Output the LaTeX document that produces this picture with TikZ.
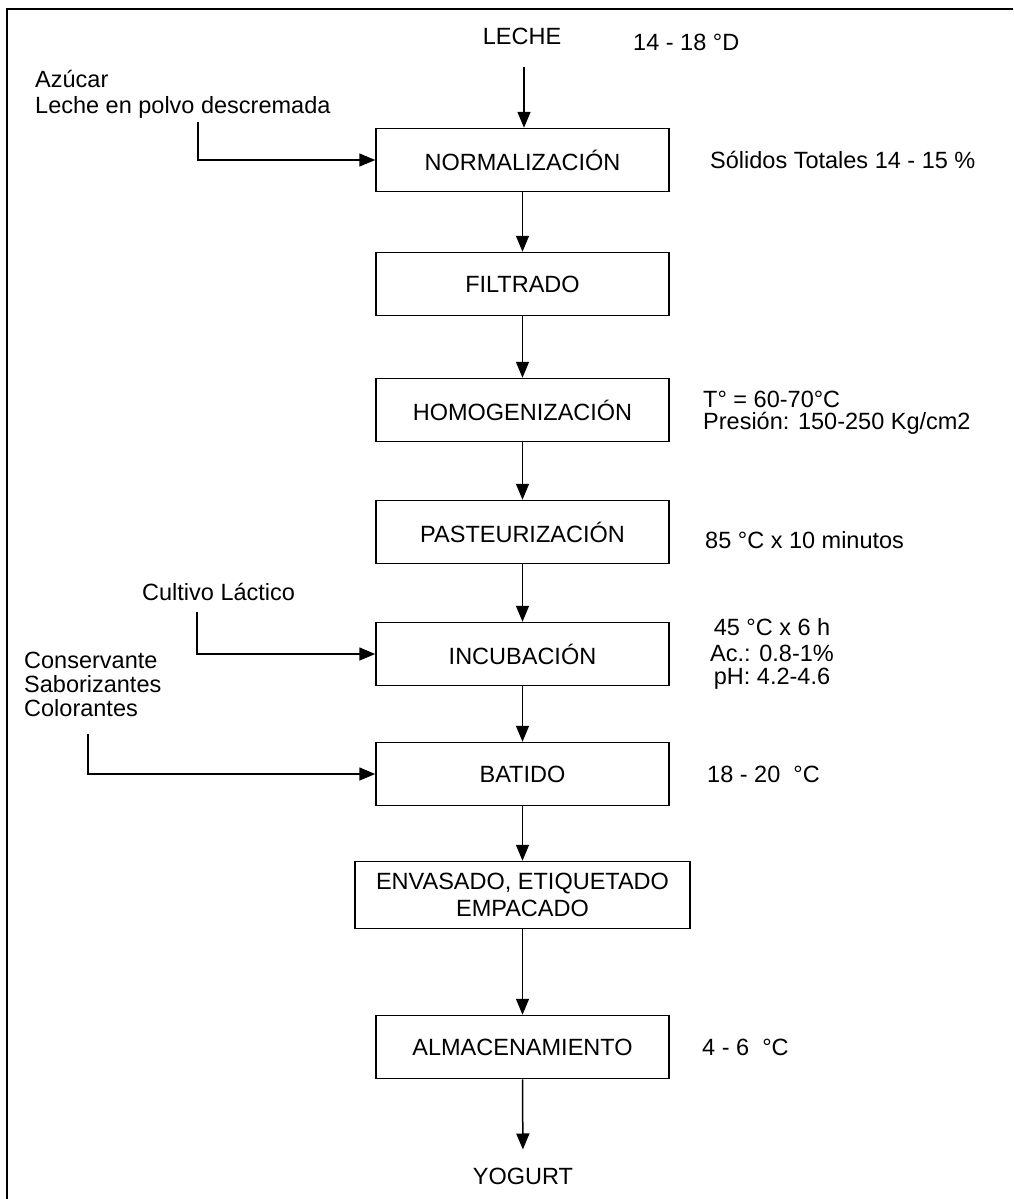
\documentclass[tikz,border=0pt]{standalone}
\usepackage{fontspec}
\setmainfont{Liberation Sans}
\usetikzlibrary{arrows.meta}
\begin{document}
\begin{tikzpicture}[x=1pt,y=-1pt,
  txt/.style={font=\fontsize{23.5}{27}\selectfont, inner sep=0pt},
  stepbox/.style={draw, line width=1.5pt, minimum width=293pt, minimum height=63pt, font=\fontsize{23.5}{27}\selectfont, align=center, inner sep=2pt},
  arr/.style={line width=1.5pt, -{Triangle[length=16pt,width=13pt]}},
  lbl/.style={txt, anchor=west}]
\useasboundingbox (0,0) rectangle (1013,1199);
% frame
\draw[line width=1.6pt] (7,1199) -- (7,9) -- (1013,9);
% process boxes
\node[stepbox] (norm) at (522.5,160) {NORMALIZACIÓN};
\node[stepbox] (filt) at (522.5,284) {FILTRADO};
\node[stepbox] (homo) at (522.5,410) {HOMOGENIZACIÓN};
\node[stepbox] (past) at (522.5,532) {PASTEURIZACIÓN};
\node[stepbox] (incu) at (522.5,654) {INCUBACIÓN};
\node[stepbox] (bati) at (522.5,774) {BATIDO};
\node[stepbox, minimum width=335pt, minimum height=67pt] (enva) at (522.5,895) {ENVASADO, ETIQUETADO\\EMPACADO};
\node[stepbox] (alma) at (522.5,1047) {ALMACENAMIENTO};
% top and bottom
\node[txt] (leche) at (522,36) {LECHE};
\node[txt] (yog) at (523,1176) {YOGURT};
% main flow
\coordinate (lstart) at (524,67);
\draw[arr] (lstart) -- (lstart |- norm.north);
\draw[arr] (norm) -- (filt);
\draw[arr] (filt) -- (homo);
\draw[arr] (homo) -- (past);
\draw[arr] (past) -- (incu);
\draw[arr] (incu) -- (bati);
\draw[arr] (bati) -- (enva);
\draw[arr] (enva) -- (alma);
\draw[arr, shorten >=18pt] (alma.south) -- (yog.north);
% inputs
\node[lbl] (azu) at (35,79) {Azúcar};
\node[lbl] (lpd) at (35,107) {Leche en polvo descremada};
\coordinate (f1) at (198,122);
\draw[arr] (f1) |- (norm.west);
\node[lbl] (cul) at (142,592) {Cultivo Láctico};
\coordinate (f2) at (197,612);
\draw[arr] (f2) |- (incu.west);
\node[lbl] (con) at (24,660) {Conservante};
\node[lbl] (sab) at (24,684) {Saborizantes};
\node[lbl] (col) at (24,708) {Colorantes};
\coordinate (f3) at (88,734);
\draw[arr] (f3) |- (bati.west);
% conditions
\node[lbl] (c0) at (633,42) {14 - 18 °D};
\node[lbl] (c1) at (710,160) {Sólidos Totales 14 - 15 \%};
\node[lbl] (c2) at (703,399) {T° = 60-70°C};
\node[lbl] (c3) at (703,423) {Presión: 150-250 Kg/cm2};
\node[lbl] (c4) at (705,540) {85 °C x 10 minutos};
\node[txt] (c5) at (772,627) {45 °C x 6 h};
\node[txt] (c6) at (772,653) {Ac.: 0.8-1\%};
\node[txt] (c7) at (772,679) {pH: 4.2-4.6};
\node[lbl] (c8) at (707,774) {18 - 20 \ °C};
\node[lbl] (c9) at (702,1047) {4 - 6 \ °C};
\end{tikzpicture}
\end{document}
